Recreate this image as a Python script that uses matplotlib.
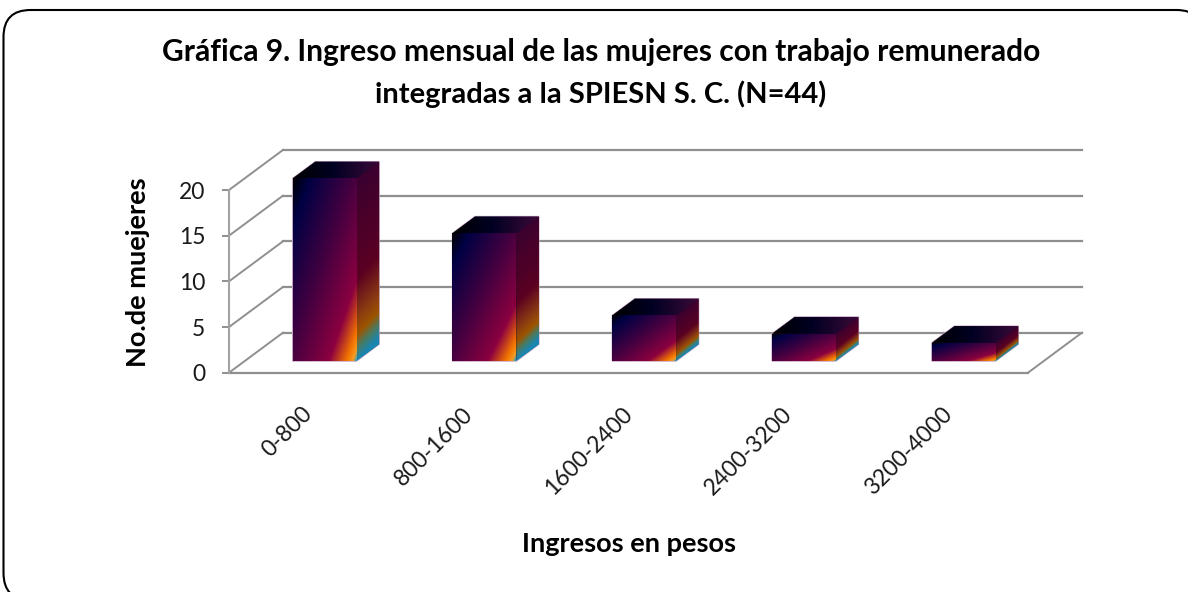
import numpy as np
from matplotlib import pyplot as plt
from matplotlib.colors import LinearSegmentedColormap
from matplotlib.patches import FancyBboxPatch, Polygon
from matplotlib.transforms import ScaledTranslation

categories = ["0-800", "800-1600", "1600-2400", "2400-3200", "3200-4000"]
mujeres = [20, 14, 5, 3, 2]
y_ticks = [0, 5, 10, 15, 20]

W, H = 1188, 592
GRID = "#8f8f8f"
FONT = ["Lato", "DejaVu Sans"]

# depth of the fake 3d box, in data units (x = categories, y = women)
DX, DY = 54 / 160, 40 / 9.135
BAR_W = 0.4
BAR_START, BAR_DEPTH = 0.29, 0.42

front_cmap = LinearSegmentedColormap.from_list("sunset", [
    (0.0, "#000000"), (0.13, "#000044"), (0.45, "#400040"), (0.78, "#8b0040"),
    (0.92, "#f27300"), (0.97, "#f59a20"), (1.0, "#1fa5cc")])
side_cmap = LinearSegmentedColormap.from_list("sunset_side", [
    (0.0, "#3a0030"), (0.55, "#5a0022"), (0.76, "#8a3a12"), (0.86, "#9c5500"),
    (0.93, "#4a7a60"), (1.0, "#1a86b0")])
top_cmap = LinearSegmentedColormap.from_list("sunset_top", [
    (0.0, "#000000"), (0.45, "#000022"), (1.0, "#3a0a38")])

fig = plt.figure(figsize=(W / 100, H / 100), dpi=100)
bg = fig.add_axes([0, 0, 1, 1])
bg.set_xlim(0, W)
bg.set_ylim(H, 0)
bg.axis("off")
bg.add_patch(FancyBboxPatch((3.5, 10), 1200, 590, boxstyle="round,pad=0,rounding_size=27",
                            fc="white", ec="black", lw=1.5))

ax = fig.add_axes([229 / W, 1 - 372.7 / H, 799 / W, 182.7 / H])
ax.patch.set_visible(False)
for s in ax.spines.values():
    s.set_visible(False)


def face(poly, cmap, t):
    # gradient filled polygon, t is a 2d array over the bounding box (row 0 = top)
    poly = np.array(poly)
    x0, y0 = poly.min(axis=0)
    x1, y1 = poly.max(axis=0)
    im = ax.imshow(cmap(np.clip(t, 0, 1)), extent=(x0, x1, y0, y1), origin="upper",
                   aspect="auto", interpolation="bilinear", zorder=3)
    patch = Polygon(poly, closed=True, transform=ax.transData, fc="none", ec="none")
    ax.add_patch(patch)
    im.set_clip_path(patch)
    im.set_clip_box(fig.bbox)


# walls and floor
for t in y_ticks:
    ax.plot([-0.5, -0.5 + DX], [t, t + DY], color=GRID, lw=1.4, clip_on=False, zorder=1)
    ax.plot([-0.5 + DX, 4.5 + DX], [t + DY, t + DY], color=GRID, lw=1.6, clip_on=False, zorder=1)
ax.plot([4.5, 4.5 + DX], [0, DY], color=GRID, lw=1.4, clip_on=False, zorder=1)
ax.plot([-0.5, 4.5], [0, 0], color=GRID, lw=1.6, clip_on=False, zorder=2)
ax.plot([-0.5, -0.5], [0, 20], color="#a3a3a3", lw=1.5, clip_on=False, zorder=2)

# bars
u, v = np.meshgrid(np.linspace(0, 1, 200), np.linspace(0, 1, 400))
for i, val in enumerate(mujeres):
    x0 = i - BAR_W / 2 + BAR_START * DX
    x1 = x0 + BAR_W
    y0 = BAR_START * DY
    y1 = y0 + val
    ox, oy = BAR_DEPTH * DX, BAR_DEPTH * DY

    # dark backing with a faint outline, hides the seams between the faces
    outline = [(x0, y0), (x1, y0), (x1 + ox, y0 + oy), (x1 + ox, y1 + oy), (x0 + ox, y1 + oy), (x0, y1)]
    ax.add_patch(Polygon(outline, closed=True, fc="#2a0028", ec="#c9a5c4", lw=0.8,
                         zorder=2.9, clip_on=False))

    face([(x0, y0), (x1, y0), (x1, y1), (x0, y1)], front_cmap, (u + v) / 2)

    # side face: w runs from the top edge to the bottom edge of the parallelogram
    slant = oy / (val + oy)
    w = (v - slant * (1 - u)) / (1 - slant)
    face([(x1, y0), (x1 + ox, y0 + oy), (x1 + ox, y1 + oy), (x1, y1)], side_cmap, w + 0.04 * u)

    face([(x0, y1), (x1, y1), (x1 + ox, y1 + oy), (x0 + ox, y1 + oy)], top_cmap, u)

ax.set_xlim(-0.5, 4.5)
ax.set_ylim(0, 20)
ax.set_yticks(y_ticks)
ax.tick_params(axis="y", length=5, width=1.4, color=GRID, labelsize=16.5, pad=12, labelcolor="#1a1a1a")
for lab in ax.get_yticklabels():
    lab.set_family(FONT)
ax.set_xticks(range(5))
ax.set_xticklabels(categories, rotation=45, ha="right", rotation_mode="anchor",
                   fontsize=16.5, family=FONT, color="#1a1a1a")
ax.tick_params(axis="x", length=0, pad=22)
shift = ScaledTranslation(-7 / 100, 0, fig.dpi_scale_trans)
for lab in ax.get_xticklabels():
    lab.set_transform(lab.get_transform() + shift)
ax.set_ylabel("No.de muejeres", fontsize=19.5, fontweight="bold", family=FONT, va="center")
ax.yaxis.set_label_coords((138 - 229) / 799, (372.7 - 272) / 182.7)

fig.text(601 / W, 1 - 60.7 / H, "Gráfica 9. Ingreso mensual de las mujeres con trabajo remunerado",
         ha="center", va="baseline", fontsize=21.6, fontweight="bold", family=FONT)
fig.text(601 / W, 1 - 103 / H, "integradas a la SPIESN S. C. (N=44)",
         ha="center", va="baseline", fontsize=21, fontweight="bold", family=FONT)
fig.text(629 / W, 1 - 551.7 / H, "Ingresos en pesos", ha="center", va="baseline",
         fontsize=19.5, fontweight="bold", family=FONT)

fig.savefig("out.png", dpi=100)
